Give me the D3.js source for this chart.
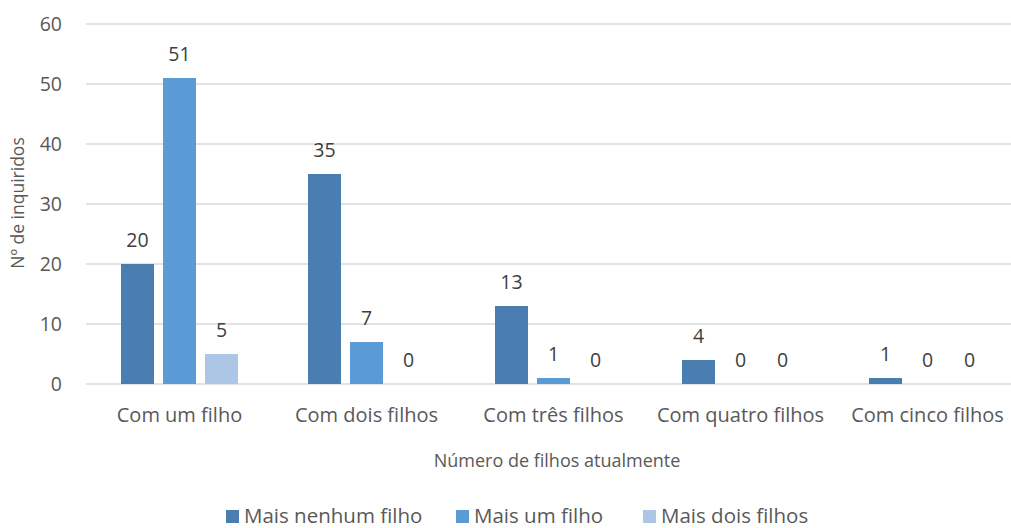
<!DOCTYPE html>
<html><head><meta charset="utf-8">
<script src="https://cdn.jsdelivr.net/npm/d3@7"></script>
<style>body{margin:0;background:#fff;} text{font-family:"Open Sans", sans-serif;}</style>
</head><body>
<svg id="c" width="1011" height="528"></svg>
<script>
const categories = ["Com um filho","Com dois filhos","Com três filhos","Com quatro filhos","Com cinco filhos"];
const seriesNames = ["Mais nenhum filho","Mais um filho","Mais dois filhos"];
const maisNenhum = [20,35,13,4,1];
const maisUm = [51,7,1,0,0];
const maisDois = [5,0,0,0,0];
const yTicks = [0,10,20,30,40,50,60];
const colors = ["#4a7eb0","#5b9bd5","#adc6e6"];
const series = [maisNenhum, maisUm, maisDois];

const svg = d3.select("#c");
const m = {l:86, r:1021, t:24, b:384};
const x = d3.scaleBand().domain(categories).range([m.l, m.r]).paddingInner(0).paddingOuter(0);
const y = d3.scaleLinear().domain([0,60]).range([m.b, m.t]);
const xs = d3.scaleBand().domain(seriesNames).range([35, 187-35]).paddingInner(9/42);

svg.append("g").selectAll("line").data(yTicks).join("line")
  .attr("x1", m.l).attr("x2", m.r).attr("y1", d=>y(d)).attr("y2", d=>y(d))
  .attr("stroke","#d9d9d9").attr("stroke-width",1.5);

svg.append("g").selectAll("text").data(yTicks).join("text")
  .attr("x", 62).attr("y", d=>y(d)).attr("dy","0.36em").attr("text-anchor","end")
  .attr("fill","#595959").attr("font-size",19.5).text(d=>d);

series.forEach((vals, si) => {
  const g = svg.append("g");
  g.selectAll("rect").data(vals).join("rect")
    .attr("x", (d,i)=>x(categories[i]) + xs(seriesNames[si]))
    .attr("width", xs.bandwidth())
    .attr("y", d=>y(d)).attr("height", d=>y(0)-y(d))
    .attr("fill", colors[si]);
  g.selectAll("text").data(vals).join("text")
    .attr("x", (d,i)=>x(categories[i]) + xs(seriesNames[si]) + xs.bandwidth()/2)
    .attr("y", d=>y(d)-17).attr("text-anchor","middle")
    .attr("fill","#404040").attr("font-size",19.5).text(d=>d);
});

svg.append("g").selectAll("text").data(categories).join("text")
  .attr("x", d=>x(d)+x.bandwidth()/2).attr("y", 422).attr("text-anchor","middle")
  .attr("fill","#595959").attr("font-size",20).text(d=>d);

svg.append("text").attr("x", 557).attr("y", 467).attr("text-anchor","middle")
  .attr("fill","#595959").attr("font-size",18).text("Número de filhos atualmente");

svg.append("text").attr("transform","translate(24,203) rotate(-90)").attr("text-anchor","middle")
  .attr("fill","#595959").attr("font-size",17.5).text("Nº de inquiridos");

const legX = [226, 456, 643];
const lg = svg.append("g");
seriesNames.forEach((n,i)=>{
  lg.append("rect").attr("x", legX[i]).attr("y", 510).attr("width",13).attr("height",13).attr("fill",colors[i]);
  lg.append("text").attr("x", legX[i]+18).attr("y", 523).attr("fill","#595959").attr("font-size",20.5).text(n);
});
</script>
</body></html>
